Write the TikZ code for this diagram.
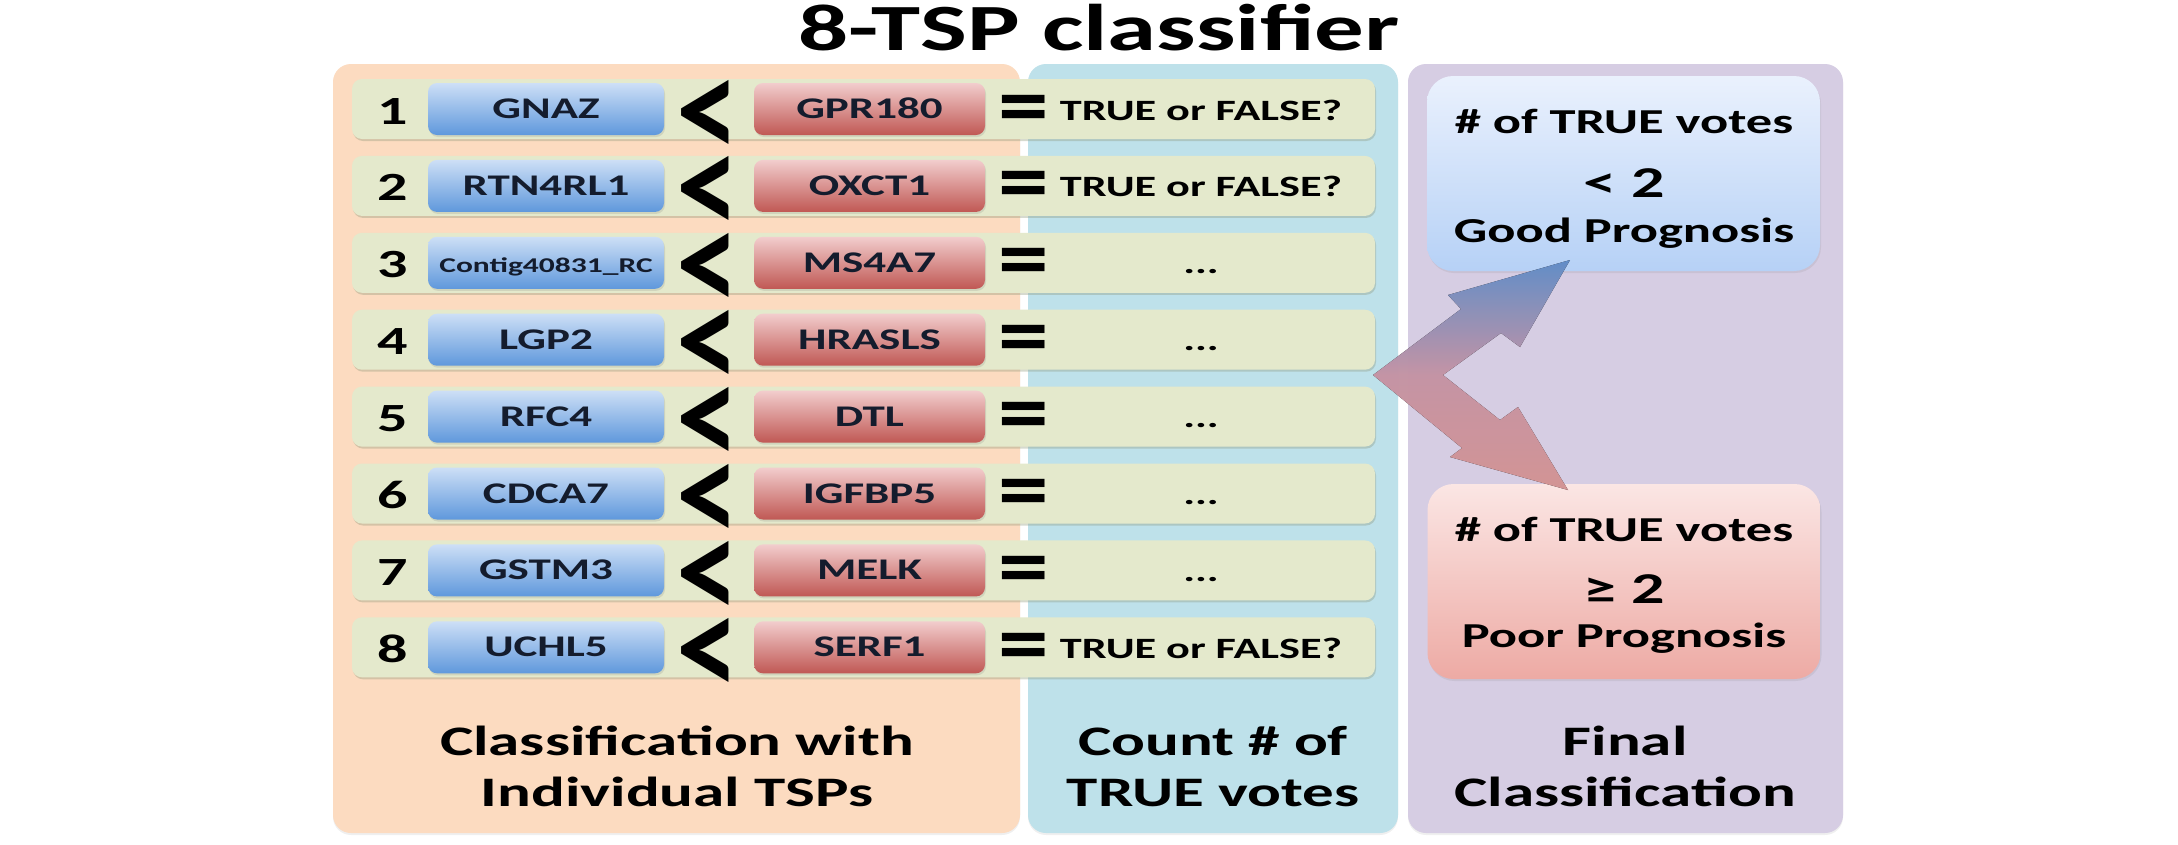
\documentclass[tikz,border=0pt]{standalone}
\usepackage{fontspec}
\usepackage{graphicx}
\setmainfont{Carlito}[FakeStretch=1.5]
\usetikzlibrary{shadows}

\definecolor{panelorange}{RGB}{252,219,192}
\definecolor{panelblue}{RGB}{190,225,234}
\definecolor{panelpurple}{RGB}{214,205,227}
\definecolor{rowgreen}{RGB}{228,233,204}
\definecolor{rowshade}{RGB}{140,150,120}
\definecolor{lowtop}{RGB}{205,223,246}
\definecolor{lowbot}{RGB}{95,152,220}
\definecolor{hightop}{RGB}{242,205,205}
\definecolor{highbot}{RGB}{192,88,84}
\definecolor{goodtop}{RGB}{234,241,253}
\definecolor{goodbot}{RGB}{182,209,246}
\definecolor{poortop}{RGB}{251,230,228}
\definecolor{poorbot}{RGB}{237,170,164}
\definecolor{arrowblue}{RGB}{105,152,215}
\definecolor{arrowmid}{RGB}{212,160,178}
\definecolor{arrowred}{RGB}{228,160,160}
\definecolor{genetext}{RGB}{20,28,45}

\def\titlefont{\bfseries\fontsize{66}{70}\selectfont}
\def\numfont{\bfseries\fontsize{40}{44}\selectfont}
\def\genefont{\bfseries\fontsize{30}{34}\selectfont}
\def\ltfont{\bfseries\fontsize{145}{145}\selectfont}
\def\eqfont{\bfseries\fontsize{90}{90}\selectfont}
\def\resfont{\bfseries\fontsize{29.5}{32}\selectfont}
\def\votefont{\bfseries\fontsize{35}{40}\selectfont}
\def\bigvotefont{\bfseries\fontsize{44}{48}\selectfont}
\def\labelfont{\bfseries\fontsize{42}{50}\selectfont}
\def\openvote{...}
\def\askvote{TRUE or FALSE?}

\tikzset{
	panel/.style={rounded corners=18pt, drop shadow={shadow xshift=0pt, shadow yshift=-2pt, opacity=0.12}},
	rowbar/.style={fill=rowgreen, rounded corners=10pt, minimum width=1023pt, minimum height=60pt, inner sep=0pt, drop shadow={shadow xshift=1pt, shadow yshift=-2pt, opacity=0.35, fill=rowshade}},
	genebox/.style={rounded corners=9pt, minimum height=52pt, inner sep=0pt, text height=19pt, text depth=0pt, font=\genefont, text=genetext, drop shadow={shadow xshift=1pt, shadow yshift=-2pt, opacity=0.2}},
	lowgene/.style={genebox, minimum width=236pt, top color=lowtop, bottom color=lowbot},
	highgene/.style={genebox, minimum width=231pt, top color=hightop, bottom color=highbot},
	sign/.style={inner sep=0pt},
	votebox/.style={rounded corners=26pt, minimum width=393pt, minimum height=195pt, drop shadow={shadow xshift=1pt, shadow yshift=-2pt, opacity=0.15}},
}

\begin{document}
\begin{tikzpicture}[x=1pt,y=-1pt]
		%%%%% START %%%%%
		\useasboundingbox[fill=white] (0,0) rectangle (2178,844);
		
		\node[font=\titlefont, anchor=base] (title) at (1099,50) {8-TSP classifier};
		
		% three columns
		\fill[panelblue, panel] (1028,64) rectangle (1398,833);
		\fill[panelorange, panel] (333,64) rectangle (1020,833);
		\fill[panelpurple, panel] (1408,64) rectangle (1843,833);
		
		% the eight pairs
		\foreach \i/\low/\high/\res in {1/GNAZ/GPR180/\askvote, 2/RTN4RL1/OXCT1/\askvote, 3/{\fontsize{21}{24}\selectfont Contig40831\_RC}/MS4A7/\openvote, 4/LGP2/HRASLS/\openvote, 5/RFC4/DTL/\openvote, 6/CDCA7/IGFBP5/\openvote, 7/GSTM3/MELK/\openvote, 8/UCHL5/SERF1/\askvote}{
			\pgfmathsetmacro\ry{109+(\i-1)*76.9}
			\node[rowbar] (row\i) at (863.5,\ry) {};
			\node[font=\numfont, anchor=base] (num\i) at (393,\ry+15) {\i};
			\node[lowgene] (low\i) at (546,\ry) {\low};
			\node[sign, font=\ltfont] (lt\i) at (708,\ry+10) {\scalebox{0.58}[1]{<}};
			\node[highgene] (high\i) at (869.5,\ry) {\high};
			\node[sign, font=\eqfont] (eq\i) at (1024,\ry+6) {\scalebox{0.75}[1]{=}};
			\node[font=\resfont, anchor=base] (res\i) at (1201,\ry+11) {\res};
		}
		
		% final classes
		\node[votebox, top color=goodtop, bottom color=goodbot] (good) at (1623.5,173.5) {};
		\node[font=\votefont, anchor=base] (good1) at (1624,133) {\# of TRUE votes};
		\node[font=\bigvotefont, anchor=base] (good2) at (1624,197) {< 2};
		\node[font=\votefont, anchor=base] (good3) at (1624,242) {Good Prognosis};
		
		\node[votebox, top color=poortop, bottom color=poorbot] (poor) at (1624,581.5) {};
		\node[font=\votefont, anchor=base] (poor1) at (1624,541) {\# of TRUE votes};
		\node[font=\bigvotefont, anchor=base] (poor2) at (1624,603) {≥ 2};
		\node[font=\votefont, anchor=base] (poor3) at (1624,647) {Poor Prognosis};
		
		% split arrow
		\coordinate (fork) at (1373,375);
		\coordinate (notch) at (1443,375);
		\coordinate (uptip) at (1570,260);
		\coordinate (downtip) at (1568,490);
		\fill[top color=arrowblue, bottom color=arrowred, middle color=arrowmid, opacity=0.92] (fork) -- (1461,309) -- (1448,295) -- (uptip) -- (1520,347) -- (1501,333) -- (notch) -- (1500,420) -- (1518,407) -- (downtip) -- (1450,457) -- (1462,448) -- cycle;
		
		% column labels
		\node[font=\labelfont, anchor=base] (lab1a) at (677,755) {Classification with};
		\node[font=\labelfont, anchor=base] (lab1b) at (677,806) {Individual TSPs};
		\node[font=\labelfont, anchor=base] (lab2a) at (1213,755) {Count \# of};
		\node[font=\labelfont, anchor=base] (lab2b) at (1213,806) {TRUE votes};
		\node[font=\labelfont, anchor=base] (lab3a) at (1625,755) {Final};
		\node[font=\labelfont, anchor=base] (lab3b) at (1625,806) {Classification};
		
		%%%%% END %%%%%
\end{tikzpicture}
\end{document}
